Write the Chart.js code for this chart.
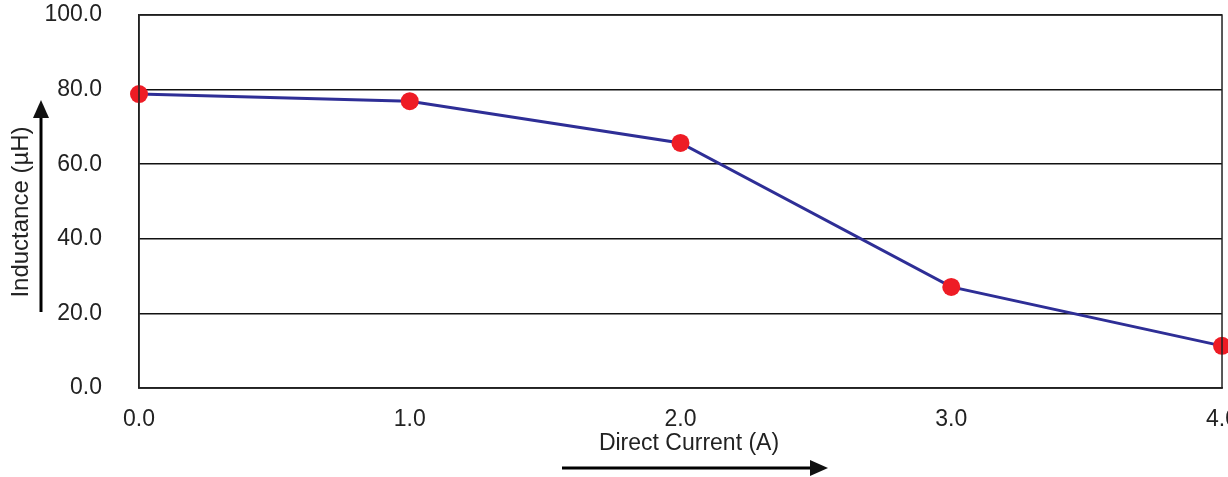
<!DOCTYPE html>
<html>
<head>
<meta charset="utf-8">
<script src="https://cdn.jsdelivr.net/npm/chart.js@4.4.0/dist/chart.umd.min.js"></script>
<style>
    html, body { margin: 0; padding: 0; background: #fff; overflow: hidden; }
    #wrap { position: relative; width: 1228px; height: 477px; overflow: hidden; }
    #box { position: absolute; left: 0; top: 0; width: 1238px; height: 477px; }
</style>
</head>
<body>
<div id="wrap"><div id="box"><canvas id="inductanceChart"></canvas></div></div>
<script>
// data
const currentA = [0, 1, 2, 3, 4];
const inductanceUH = [78.8, 76.9, 65.7, 27.1, 11.3];
const yTicks = [0, 20, 40, 60, 80, 100];
const xTitle = 'Direct Current (A)';
const yTitle = 'Inductance (\u00b5H)';

const FONT = '"Liberation Sans", Arial, sans-serif';

function arrowHead(ctx, x, y, dir) {
    // dir: 'up' or 'right'
    ctx.beginPath();
    if (dir === 'up') {
        ctx.moveTo(x, y);
        ctx.lineTo(x - 8, y + 18);
        ctx.lineTo(x + 8, y + 18);
    } else {
        ctx.moveTo(x, y);
        ctx.lineTo(x - 18, y - 8);
        ctx.lineTo(x - 18, y + 8);
    }
    ctx.closePath();
    ctx.fill();
}

// frame, axis titles and the two arrows
const decorations = {
    id: 'decorations',
    afterDraw(chart) {
        const ctx = chart.ctx;
        const a = chart.chartArea;
        ctx.save();
        ctx.strokeStyle = '#222';
        ctx.lineWidth = 1.5;
        ctx.strokeRect(a.left, a.top, a.right - a.left, a.bottom - a.top);

        ctx.fillStyle = '#111';
        ctx.strokeStyle = '#000';
        ctx.lineWidth = 3;

        // y arrow
        ctx.beginPath();
        ctx.moveTo(41, 312);
        ctx.lineTo(41, 112);
        ctx.stroke();
        arrowHead(ctx, 41, 100, 'up');

        // x arrow
        ctx.beginPath();
        ctx.moveTo(562, 468);
        ctx.lineTo(815, 468);
        ctx.stroke();
        arrowHead(ctx, 828, 468, 'right');

        ctx.font = '23px ' + FONT;
        ctx.fillStyle = '#222';
        ctx.textAlign = 'center';
        ctx.textBaseline = 'middle';
        ctx.fillText(xTitle, 689, 444);

        ctx.font = '24px ' + FONT;
        ctx.translate(21, 212);
        ctx.rotate(-Math.PI / 2);
        ctx.fillText(yTitle, 0, 0);
        ctx.restore();
    }
};

const ctx = document.getElementById('inductanceChart').getContext('2d');
const chart = new Chart(ctx, {
    type: 'line',
    data: {
        datasets: [{
            data: currentA.map((x, i) => ({ x: x, y: inductanceUH[i] })),
            borderColor: '#2e2e96',
            borderWidth: 3,
            pointBackgroundColor: '#ee1c25',
            pointBorderColor: '#ee1c25',
            pointRadius: 9,
            pointBorderWidth: 0,
            tension: 0,
            clip: false
        }]
    },
    options: {
        responsive: true,
        maintainAspectRatio: false,
        animation: false,
        layout: { padding: { top: 15, left: 0, right: 0, bottom: 0 } },
        plugins: {
            legend: { display: false },
            tooltip: { enabled: false }
        },
        scales: {
            x: {
                type: 'linear',
                min: 0,
                max: 4,
                afterFit: (s) => { s.height = 89; },
                ticks: {
                    stepSize: 1,
                    padding: 0,
                    color: '#222',
                    font: { family: FONT, size: 23 },
                    maxRotation: 0,
                    callback: (v) => v.toFixed(1)
                },
                grid: { display: true, drawOnChartArea: false, drawTicks: true, tickLength: 18, tickColor: 'rgba(0,0,0,0)' },
                border: { display: true, color: '#222', width: 1.5 }
            },
            y: {
                min: 0,
                max: 100,
                afterFit: (s) => { s.width = 139; },
                afterBuildTicks: (s) => { s.ticks = yTicks.map(v => ({ value: v })); },
                ticks: {
                    padding: 0,
                    color: '#222',
                    font: { family: FONT, size: 23 },
                    callback: (v) => v.toFixed(1)
                },
                grid: { color: '#111', lineWidth: 1.5, drawTicks: true, tickLength: 37, tickColor: 'rgba(0,0,0,0)' },
                border: { display: true, color: '#222', width: 1.5 }
            }
        }
    },
    plugins: [decorations]
});
</script>
</body>
</html>
